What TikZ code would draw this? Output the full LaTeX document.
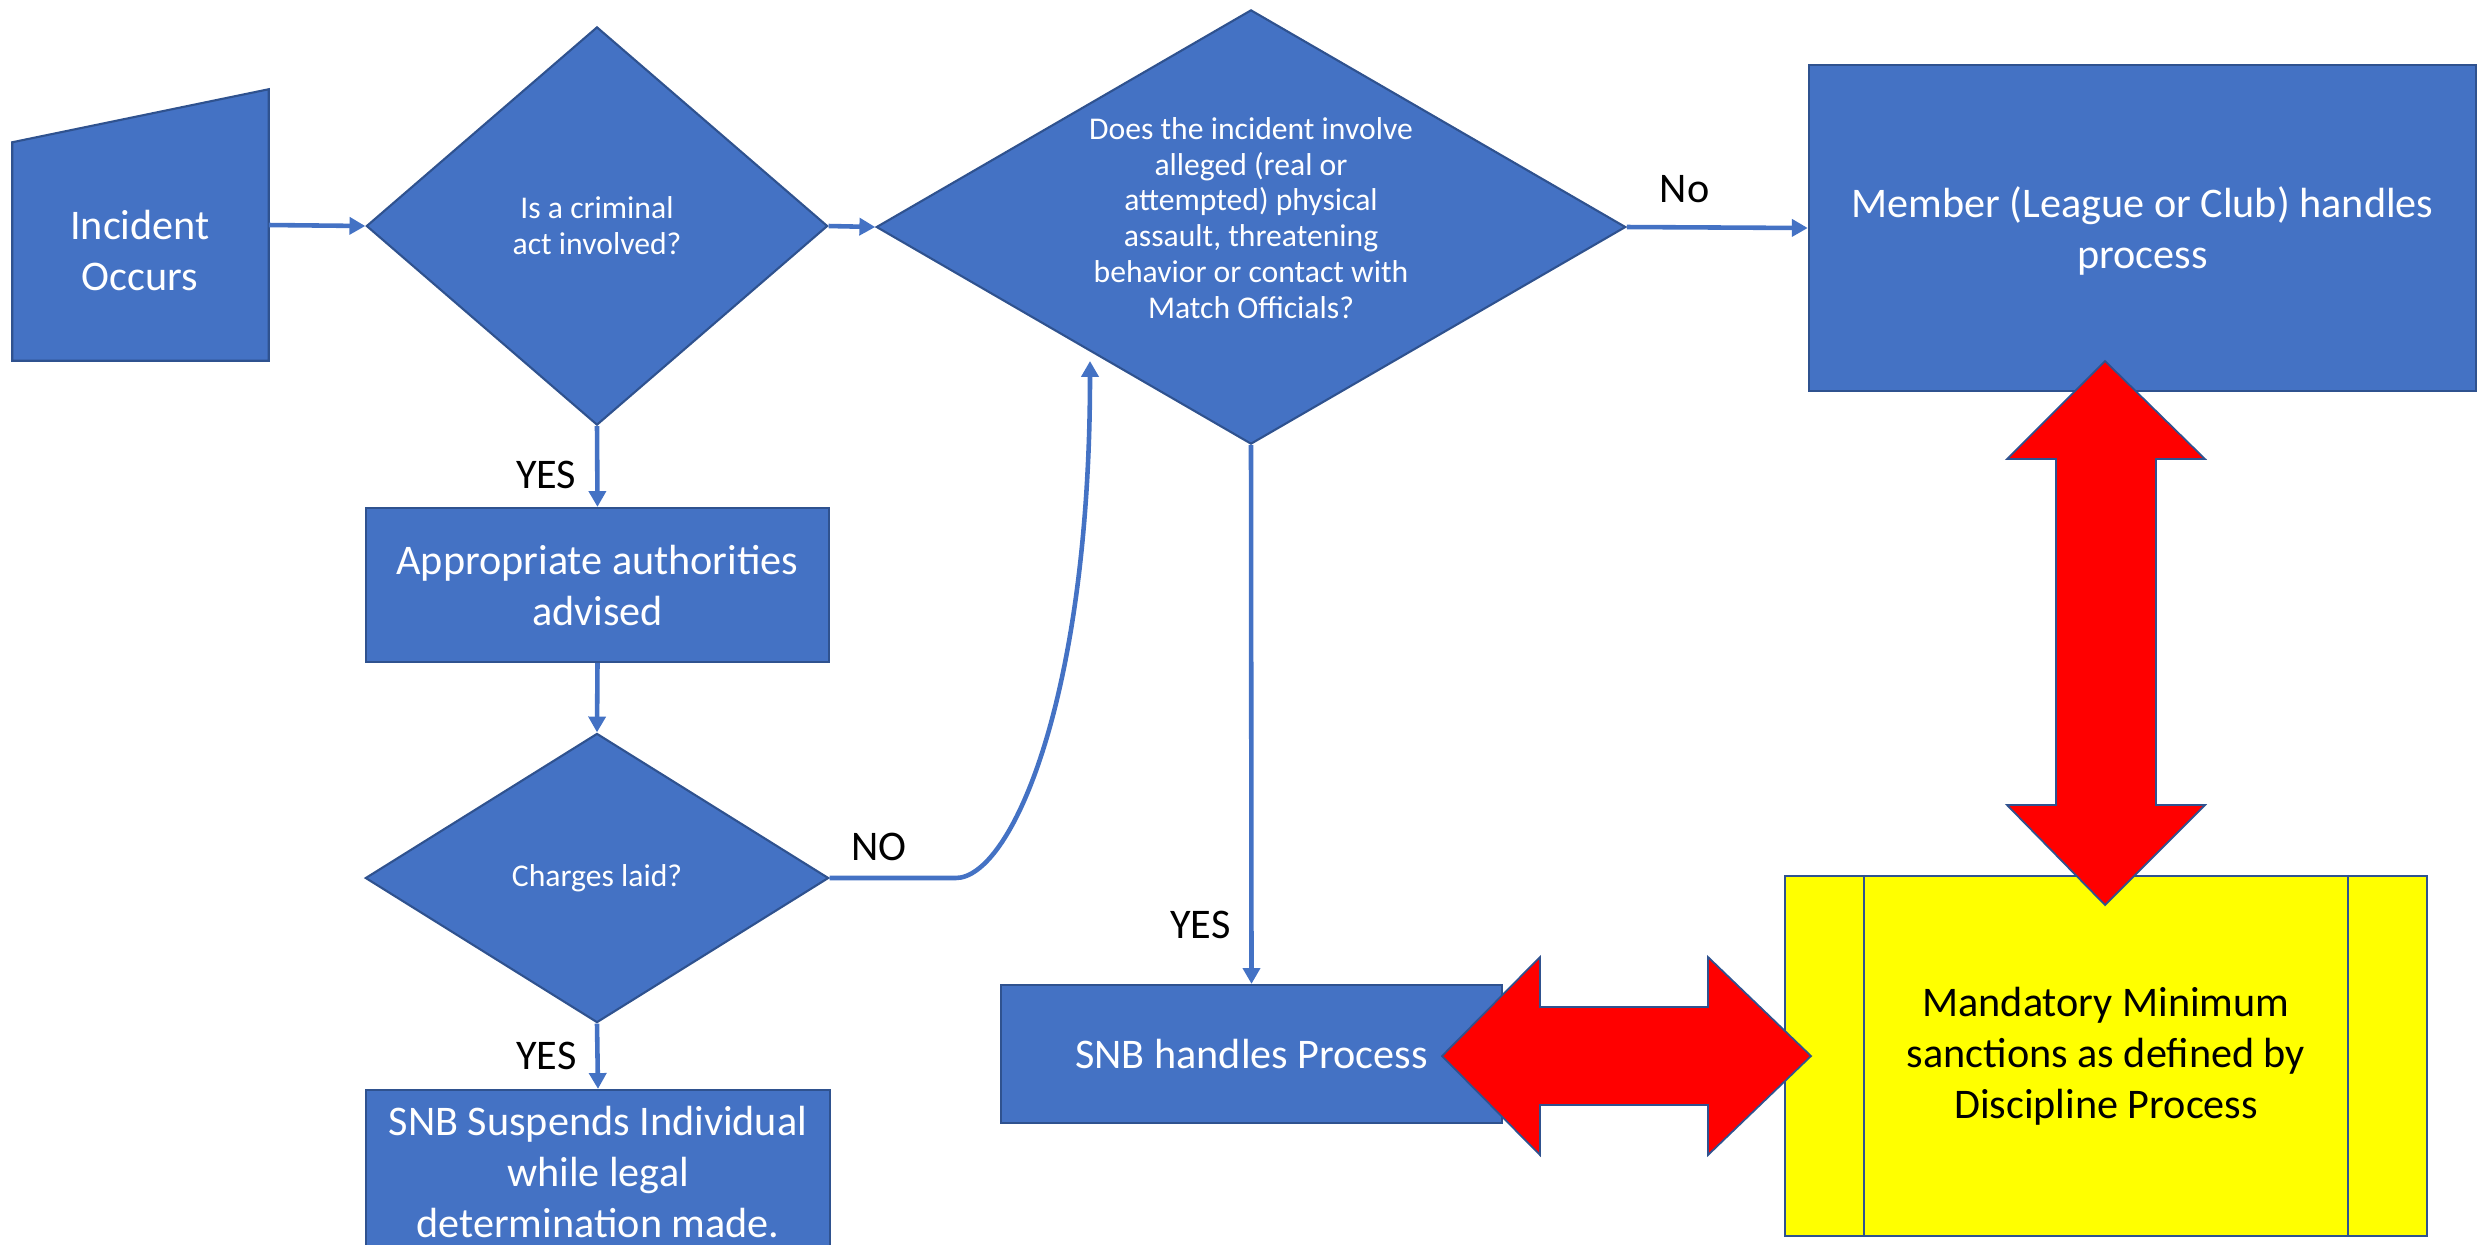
\documentclass[tikz,border=0pt]{standalone}
\usepackage{fontspec}
\setmainfont{Carlito}
\usetikzlibrary{shapes.geometric,arrows.meta}
\definecolor{fillblue}{HTML}{4472C4}
\definecolor{edgeblue}{HTML}{2F528F}
\definecolor{sanctyellow}{HTML}{FFFF00}
\definecolor{bigred}{HTML}{FF0000}
\tikzset{
  box/.style={draw=edgeblue, fill=fillblue, line width=0.6pt, text=white, align=center,
    font=\fontsize{12}{14.5}\selectfont, inner sep=0pt},
  decision/.style={box, diamond, font=\fontsize{9}{10.2}\selectfont},
  flow/.style={draw=fillblue, line width=1.3pt, -{Triangle[length=4.5pt,width=4.8pt]}},
  answer/.style={font=\fontsize{12}{14}\selectfont, text=black},
  twoway/.style={fill=bigred, draw=edgeblue, line width=0.5pt},
}
\begin{document}
\begin{tikzpicture}[x=0.01cm,y=-0.01cm]
\useasboundingbox (0,0) rectangle (2484,1244);
% left column
\node[minimum width=2.55cm, minimum height=2.7cm] (inc) at (140.5,225) {};
\draw[box] (inc.south west) -- (inc.south east) -- (inc.north east) -- ([yshift=-0.53cm]inc.north west) -- cycle;
\node[box, draw=none, fill=none] (inctext) at (140,250) {Incident\\Occurs};
\node[decision, aspect=1.16, minimum width=4.61cm, minimum height=3.98cm] (crim) at (597,226) {Is a criminal\\act involved?};
\node[box, minimum width=4.63cm, minimum height=1.54cm] (auth) at (597.5,585) {Appropriate authorities\\advised};
\node[decision, aspect=1.6, minimum width=4.63cm, minimum height=2.89cm] (charge) at (597,878) {Charges laid?};
\node[box, minimum width=4.64cm, minimum height=1.64cm] (susp) at (598,1172) {SNB Suspends Individual\\while legal\\determination made.};
% middle
\node[decision, minimum width=7.49cm, minimum height=4.34cm] (assault) at (1251,227) {};
\node[decision, draw=none, fill=none] (assaulttext) at (1251,218) {Does the incident involve\\alleged (real or\\attempted) physical\\assault, threatening\\behavior or contact with\\Match Officials?};
\node[box, minimum width=5.01cm, minimum height=1.38cm] (snb) at (1251.5,1054) {SNB handles Process};
% right
\node[box, minimum width=6.67cm, minimum height=3.26cm] (member) at (2142.5,228) {\\[-4pt]Member (League or Club) handles\\process};
\node[box, fill=sanctyellow, text=black, minimum width=6.42cm, minimum height=3.6cm] (mms) at (2106,1056) {Mandatory Minimum\\sanctions as defined by\\Discipline Process};
\draw[draw=edgeblue, line width=0.6pt] ([xshift=0.8cm]mms.north west) -- ([xshift=0.8cm]mms.south west)
  ([xshift=-0.8cm]mms.north east) -- ([xshift=-0.8cm]mms.south east);
% connectors
\path[flow] (inc.east) -- (crim.west);
\path[flow] (crim.east) -- (assault.west);
\path[flow] (assault.east) -- node[answer, pos=0.32, above=3pt] {No} (member.west);
\path[flow] (crim.south) -- node[answer, left=2pt, pos=0.6] {YES} (auth.north);
\path[flow] (auth.south) -- (charge.north);
\path[flow] (charge.south) -- node[answer, left=2pt, pos=0.5] {YES} (susp.north);
\path[flow] (assault.south) -- node[answer, left=2pt, pos=0.89] {YES} (snb.north);
\coordinate (back) at (1090,361);
\path[flow] (charge.east) -- node[answer, above=1pt, pos=0.39] {NO} ++(126,0) .. controls +(55,0) and (1090,700) .. (back);
% two-way block arrows
\path[twoway] (1442,1056) -- (1540,957) -- (1540,1007) -- (1708,1007) -- (1708,957) -- (1811,1056)
  -- (1708,1155) -- (1708,1105) -- (1540,1105) -- (1540,1155) -- cycle;
\path[twoway] (2105,361) -- (2205,459) -- (2156,459) -- (2156,805) -- (2205,805) -- (2105,905)
  -- (2007,805) -- (2056,805) -- (2056,459) -- (2007,459) -- cycle;
\end{tikzpicture}
\end{document}
